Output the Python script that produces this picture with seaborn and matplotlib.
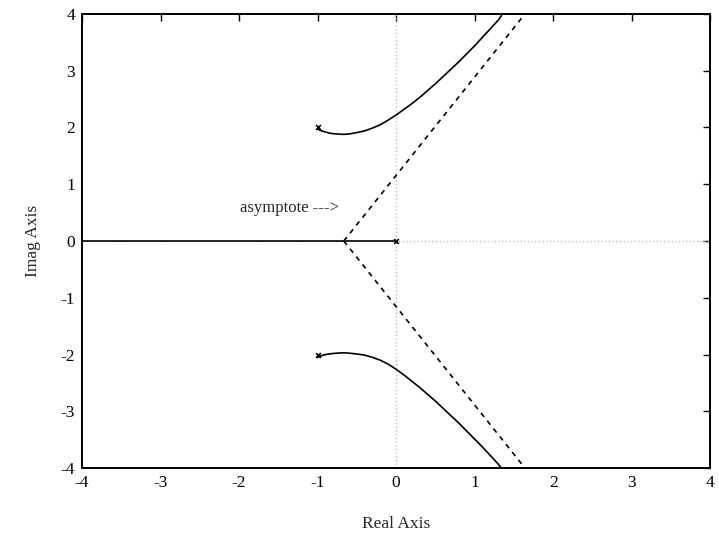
import numpy as np
import pandas as pd
import matplotlib
matplotlib.use("Agg")
import matplotlib.pyplot as plt
import seaborn as sns

# Poles of the open-loop system
pole_re = [-1.0, -1.0, 0.0]
pole_im = [2.0, -2.0, 0.0]

# Upper complex branch
upper_re = [-1.0, -0.95, -0.9, -0.85, -0.8, -0.75, -0.7, -0.65, -0.6, -0.5, -0.4,
            -0.3, -0.2, -0.1, 0.0, 0.1, 0.2, 0.3, 0.4, 0.5, 0.6, 0.7, 0.8, 0.9,
            1.0, 1.1, 1.2, 1.3, 1.34]
upper_im = [1.97, 1.94, 1.92, 1.90, 1.89, 1.885, 1.88, 1.88, 1.885, 1.91, 1.94,
            1.99, 2.05, 2.13, 2.22, 2.32, 2.42, 2.53, 2.65, 2.77, 2.90, 3.03, 3.16, 3.30,
            3.44, 3.59, 3.74, 3.89, 3.97]

# Lower complex branch
lower_re = [-1.0, -0.95, -0.9, -0.85, -0.8, -0.75, -0.7, -0.65, -0.6, -0.5, -0.4,
            -0.3, -0.2, -0.1, 0.0, 0.1, 0.2, 0.3, 0.4, 0.5, 0.6, 0.7, 0.8, 0.9,
            1.0, 1.1, 1.2, 1.3, 1.34]
lower_im = [-2.05, -2.02, -2.00, -1.99, -1.98, -1.975, -1.97, -1.97, -1.975, -1.99, -2.01,
            -2.05, -2.10, -2.17, -2.26, -2.36, -2.47, -2.58, -2.70, -2.82, -2.95, -3.08, -3.21, -3.35,
            -3.49, -3.63, -3.78, -3.93, -4.0]

# Real-axis branch
real_re = [0.0, -4.0]
real_im = [0.0, 0.0]

# Asymptotes
asym_up_re = [-0.667, 1.64]
asym_up_im = [0.0, 4.0]
asym_dn_re = [-0.667, 1.64]
asym_dn_im = [0.0, -4.0]

xticks = [-4, -3, -2, -1, 0, 1, 2, 3, 4]
yticks = [-4, -3, -2, -1, 0, 1, 2, 3, 4]

sns.set_theme(style="white")
plt.rcParams['font.family'] = ['Liberation Serif', 'DejaVu Serif']
plt.rcParams['axes.unicode_minus'] = False

fig = plt.figure(figsize=(7.19, 5.35), dpi=100)
ax = fig.add_axes([0.114, 0.125, 0.874, 0.849])

# dotted reference axes
ax.axvline(0, color="#bbbbbb", linestyle=":", linewidth=1.0, zorder=1)
ax.axhline(0, color="#bbbbbb", linestyle=":", linewidth=1.0, zorder=1)

for xs, ys in [(upper_re, upper_im), (lower_re, lower_im), (real_re, real_im)]:
    sns.lineplot(x=xs, y=ys, sort=False, estimator=None, color="black",
                 linewidth=1.2, ax=ax)

for xs, ys in [(asym_up_re, asym_up_im), (asym_dn_re, asym_dn_im)]:
    sns.lineplot(x=xs, y=ys, sort=False, estimator=None, color="black",
                 linewidth=1.2, dashes=False, ax=ax).lines[-1].set_dashes([3, 3])

sns.scatterplot(x=pole_re, y=pole_im, marker="x", color="black", s=12,
                linewidth=1.2, ax=ax, zorder=5)

ax.text(-1.99, 0.58, "asymptote --->", fontsize=12, va="center", ha="left")

ax.set_xlim(-4, 4)
ax.set_ylim(-4, 4)
ax.set_xticks(xticks)
ax.set_yticks(yticks)
ax.set_xticklabels([str(t) for t in xticks])
ax.set_yticklabels([str(t) for t in yticks])
ax.tick_params(direction="in", top=True, right=True, length=5, width=1,
               labelsize=12.5, colors="black", pad=5)
for sp in ax.spines.values():
    sp.set_color("black")
    sp.set_linewidth(1.4)
    sp.set_visible(True)

ax.set_xlabel("Real Axis", fontsize=12.5, labelpad=18)
ax.set_ylabel("Imag Axis", fontsize=12.5, labelpad=14)

fig.savefig("out.png", dpi=100)
